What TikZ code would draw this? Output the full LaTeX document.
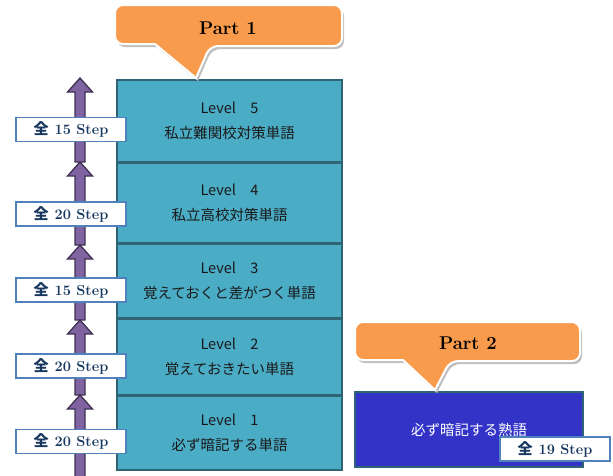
\documentclass[tikz,border=0pt]{standalone}
\usepackage{fontspec}
\newfontfamily\jp{Noto Sans CJK JP}
\definecolor{levelfill}{HTML}{4BACC6}
\definecolor{leveldraw}{HTML}{2E6476}
\definecolor{partfill}{HTML}{3333C8}
\definecolor{arrowfill}{HTML}{8064A2}
\definecolor{arrowdraw}{HTML}{3F3151}
\definecolor{stepblue}{HTML}{4F81BD}
\definecolor{steptext}{HTML}{17375E}
\definecolor{calloutfill}{HTML}{F99B4C}
\tikzset{
  levelbox/.style={draw=leveldraw, line width=1.6pt, fill=levelfill, minimum width=225, align=center, font=\jp\fontsize{14.5}{25}\selectfont, text=black!90, inner sep=0pt},
  partbox/.style={draw=leveldraw, line width=1.6pt, fill=partfill, minimum width=228, minimum height=75, font=\jp\fontsize{14.5}{18}\selectfont, text=white, inner sep=0pt},
  steplabel/.style={draw=stepblue, line width=1.8pt, fill=white, minimum width=110, minimum height=24, inner sep=0pt, text=steptext, font=\fontsize{14.5}{16}\selectfont\bfseries},
  arrowseg/.style={fill=arrowfill, draw=arrowdraw, line width=1.3pt, line join=miter},
  callout/.style={fill=calloutfill, draw=white, line width=2pt},
  calloutshadow/.style={fill=black!25},
  parttext/.style={font=\fontsize{18.5}{20}\selectfont\bfseries, text=black, inner sep=0pt}
}
\newcommand{\arrowsegment}[2]{% bottom, tip
  \draw[arrowseg] (75,#1) -- (75,#2+14) -- (67.5,#2+14) -- (80,#2) -- (92.5,#2+14) -- (85,#2+14) -- (85,#1) -- cycle;
}
\newcommand{\zen}{{\jp\bfseries\fontsize{15}{16}\selectfont 全}\kern6pt\relax}
\begin{document}
\begin{tikzpicture}[x=1pt,y=-1pt]
\useasboundingbox (0,0) rectangle (613,475);
% arrows
\arrowsegment{162}{78}
\arrowsegment{245}{162}
\arrowsegment{320}{245}
\arrowsegment{395}{320}
\arrowsegment{478}{395}
% level boxes
\node[levelbox, minimum height=82] (l5) at (229.5,121) {Level　5\\私立難関校対策単語};
\node[levelbox, minimum height=80] (l4) at (229.5,203) {Level　4\\私立高校対策単語};
\node[levelbox, minimum height=74] (l3) at (229.5,281) {Level　3\\覚えておくと差がつく単語};
\node[levelbox, minimum height=76] (l2) at (229.5,357) {Level　2\\覚えておきたい単語};
\node[levelbox, minimum height=74] (l1) at (229.5,433) {Level　1\\必ず暗記する単語};
% step labels
\node[steplabel] (s5) at (71,129.5) {\zen 15 Step};
\node[steplabel] (s4) at (71,214) {\zen 20 Step};
\node[steplabel] (s3) at (71,290) {\zen 15 Step};
\node[steplabel] (s2) at (71,366) {\zen 20 Step};
\node[steplabel] (s1) at (71,441.5) {\zen 20 Step};
% part 2 box
\node[partbox] (p2) at (469,429.5) {必ず暗記する熟語};
\node[steplabel, minimum width=110, minimum height=24] (s6) at (555,449) {\zen 19 Step};
% callout part 1
\fill[calloutshadow, rounded corners=8] (117,8) -- (344,8) -- (344,49) -- (212,49) [sharp corners]-- (198,81) -- (157,47) [rounded corners=8]-- (117,47) -- cycle;
\draw[callout, rounded corners=8] (115,5) -- (342,5) -- (342,46) -- (210,46) [sharp corners]-- (196,78) -- (155,44) [rounded corners=8]-- (115,44) -- cycle;
\node[parttext] (c1) at (228,28) {Part 1};
% callout part 2
\fill[calloutshadow, rounded corners=8] (357,325) -- (582,325) -- (582,364) -- (452,364) [sharp corners]-- (437,393) -- (405,363) [rounded corners=8]-- (357,363) -- cycle;
\draw[callout, rounded corners=8] (355,322) -- (580,322) -- (580,361) -- (450,361) [sharp corners]-- (435,390) -- (403,360) [rounded corners=8]-- (355,360) -- cycle;
\node[parttext] (c2) at (468,343) {Part 2};
\end{tikzpicture}
\end{document}
